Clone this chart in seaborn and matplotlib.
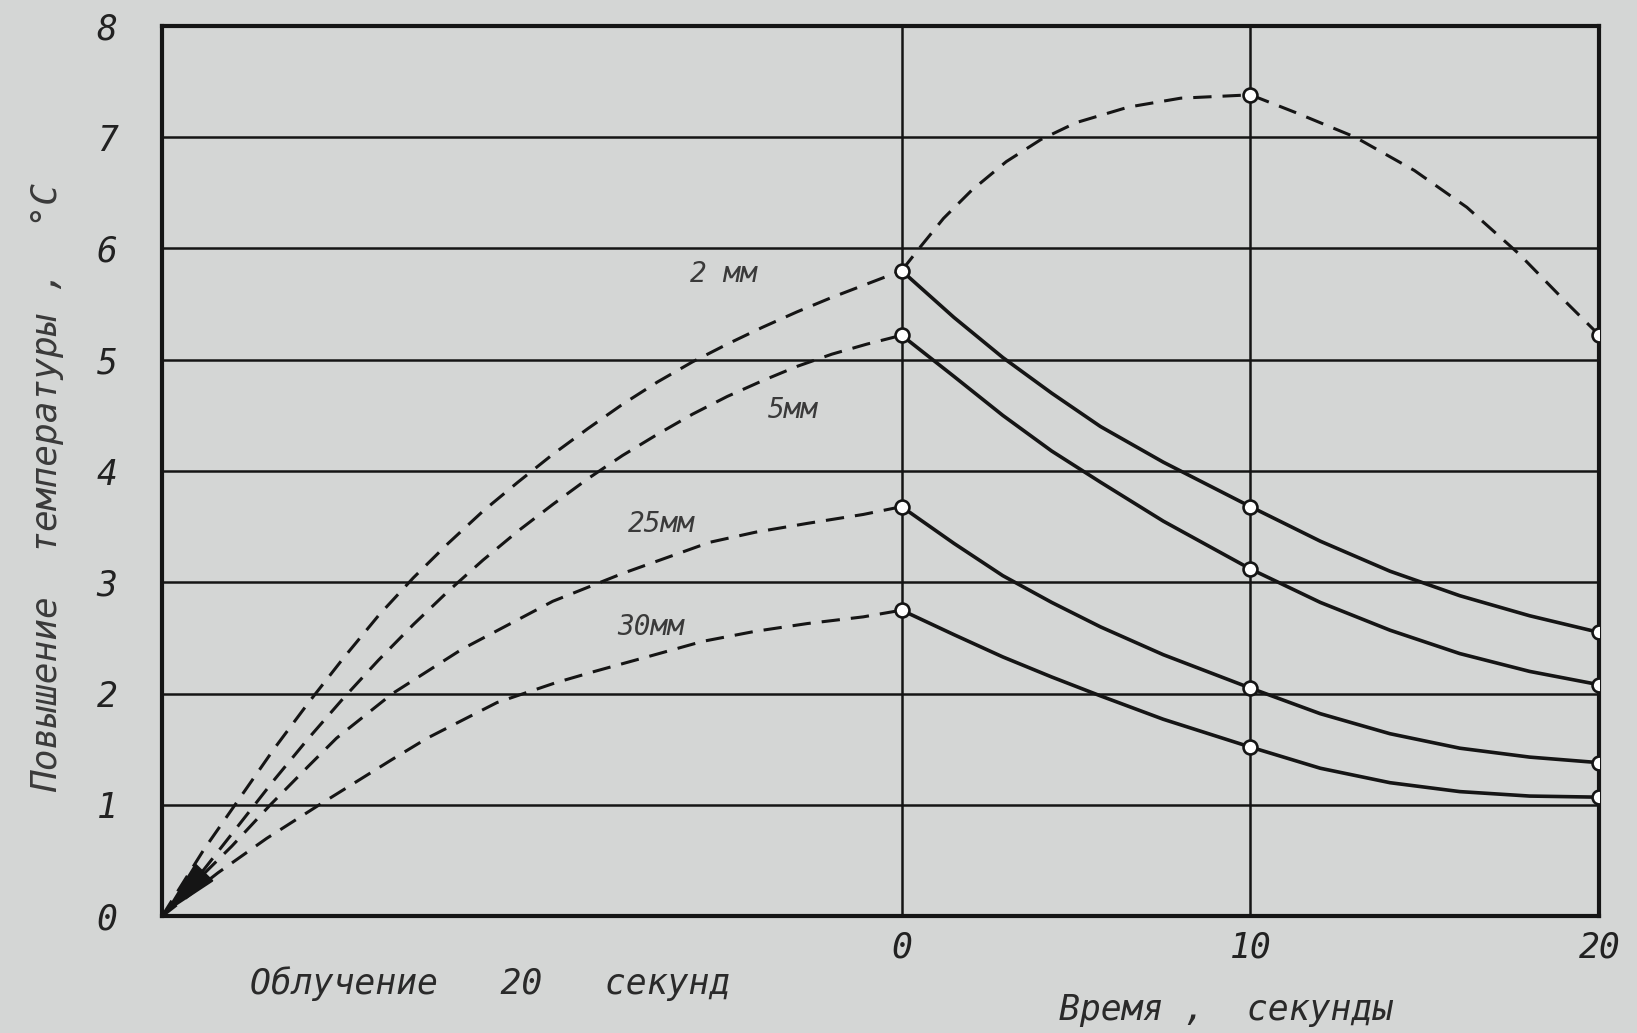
"""Temperature rise during and after 20 s irradiation at several depths."""
import matplotlib
matplotlib.use("Agg")
import matplotlib.pyplot as plt
import pandas as pd
import seaborn as sns

# --- data ------------------------------------------------------------------
DEPTHS = ["2 мм", "5мм", "25мм", "30мм"]

# irradiation phase (dashed), time axis shifted so that 0 = end of irradiation
irr_t_2mm = [-21.2, -20, -19, -18, -17, -16, -15, -14, -13, -12, -11, -10, -9, -8, -7, -6, -5, -4, -3, -2, -1, 0]
irr_dt_2mm = [0, 0.6, 1.05, 1.5, 1.92, 2.32, 2.7, 3.04, 3.35, 3.64, 3.9, 4.15, 4.38, 4.6, 4.8, 4.98, 5.14, 5.29, 5.43, 5.56, 5.68, 5.8]
irr_t_5mm = [-21.2, -20, -19, -18, -17, -16, -15, -14, -13, -12, -11, -10, -9, -8, -7, -6, -5, -4, -3, -2, -1, 0]
irr_dt_5mm = [0, 0.42, 0.82, 1.22, 1.6, 1.96, 2.3, 2.62, 2.92, 3.2, 3.46, 3.7, 3.93, 4.14, 4.33, 4.51, 4.67, 4.81, 4.94, 5.05, 5.14, 5.22]
irr_t_25mm = [-21.2, -20.2, -19.2, -18.1, -17, -16.2, -14.6, -12.6, -10, -8, -5.5, -4.2, -2.7, -1.1, 0]
irr_dt_25mm = [0, 0.32, 0.63, 1.0, 1.35, 1.6, 2.0, 2.4, 2.83, 3.08, 3.36, 3.45, 3.53, 3.61, 3.68]
irr_t_30mm = [-21.2, -19.6, -18.2, -16.7, -14.6, -13.6, -11.6, -9.9, -8.8, -7.3, -5.7, -4.2, -2.7, -1.1, 0]
irr_dt_30mm = [0, 0.39, 0.7, 1.0, 1.41, 1.6, 1.92, 2.1, 2.2, 2.33, 2.47, 2.56, 2.63, 2.69, 2.75]

# cooling phase (solid), seconds after irradiation
cool_t = [0, 1.5, 2.9, 4.3, 5.7, 7.5, 10, 12, 14, 16, 18, 20]
cool_dt_2mm = [5.8, 5.38, 5.02, 4.7, 4.4, 4.08, 3.68, 3.37, 3.1, 2.88, 2.7, 2.55]
cool_dt_5mm = [5.22, 4.85, 4.5, 4.18, 3.9, 3.55, 3.12, 2.82, 2.57, 2.36, 2.2, 2.08]
cool_dt_25mm = [3.68, 3.35, 3.06, 2.82, 2.6, 2.35, 2.05, 1.82, 1.64, 1.51, 1.43, 1.38]
cool_dt_30mm = [2.75, 2.53, 2.33, 2.15, 1.98, 1.77, 1.52, 1.33, 1.2, 1.12, 1.08, 1.07]

# upper dashed envelope
peak_t = [0, 0.5, 1.2, 2, 3, 4, 5, 6.5, 8, 10, 11.3, 13, 14.7, 16.2, 17.7, 19.1, 20]
peak_dt = [5.8, 6.0, 6.27, 6.52, 6.78, 6.98, 7.13, 7.27, 7.35, 7.38, 7.22, 7.0, 6.7, 6.37, 5.95, 5.5, 5.22]

MARK_T = [0, 10, 20]

# label positions (data coords)
label_x = [-5.1, -3.1, -6.9, -7.2]
label_y = [5.77, 4.55, 3.52, 2.6]

# --- styling -----------------------------------------------------------------
BG = "#d4d6d5"
INK = "#151515"
MONO = ["DejaVu Sans Mono"]

sns.set_theme(style="white")
plt.rcParams.update({
    "font.family": MONO,
    "font.style": "italic",
    "axes.facecolor": BG,
    "figure.facecolor": BG,
    "savefig.facecolor": BG,
})


def build_frame():
    rows = []
    irr = [(irr_t_2mm, irr_dt_2mm), (irr_t_5mm, irr_dt_5mm),
           (irr_t_25mm, irr_dt_25mm), (irr_t_30mm, irr_dt_30mm)]
    cool = [cool_dt_2mm, cool_dt_5mm, cool_dt_25mm, cool_dt_30mm]
    for depth, (ti, di), dc in zip(DEPTHS, irr, cool):
        rows += [(t, d, depth, "irr") for t, d in zip(ti, di)]
        rows += [(t, d, depth, "cool") for t, d in zip(cool_t, dc)]
    rows += [(t, d, "peak", "peak") for t, d in zip(peak_t, peak_dt)]
    return pd.DataFrame(rows, columns=["t", "dT", "depth", "phase"])


def main():
    df = build_frame()

    fig = plt.figure(figsize=(16.37, 10.33), dpi=100)
    ax = fig.add_axes([0.099, 0.113, 0.878, 0.862])

    dash = (0, (6, 3.6))
    for (depth, phase), sub in df.groupby(["depth", "phase"], sort=False):
        style = "-" if phase == "cool" else dash
        lw = 2.6 if phase == "cool" else 2.2
        sns.lineplot(data=sub, x="t", y="dT", sort=False, ax=ax, color=INK,
                     linewidth=lw, linestyle=style, legend=False, zorder=3)

    marks = df[(df["phase"] != "irr") & df["t"].isin(MARK_T)]
    marks = marks[~((marks["phase"] == "peak") & (marks["t"] == 0))]
    sns.scatterplot(data=marks, x="t", y="dT", ax=ax, s=100, marker="o",
                    facecolor="white", edgecolor=INK, linewidth=1.9,
                    legend=False, zorder=5)

    # arrow head at the origin of the heating curves
    ax.annotate("", xy=(-21.15, 0.02), xytext=(-20.1, 0.36),
                arrowprops=dict(arrowstyle="-|>,head_length=1.9,head_width=0.42",
                                mutation_scale=20, color=INK, lw=1.5,
                                shrinkA=0, shrinkB=0),
                zorder=6)

    for txt, x, y in zip(DEPTHS, label_x, label_y):
        ax.text(x, y, txt, fontsize=20, color="#3a3a3a", ha="center",
                va="center", zorder=4)

    ax.set_xlim(-21.2, 20)
    ax.set_ylim(0, 8)
    ax.set_xticks(MARK_T)
    ax.set_xticklabels(["0", "10", "20"])
    ax.set_yticks(range(0, 9))
    ax.tick_params(axis="both", length=0, labelsize=25, colors="#222222")
    ax.tick_params(axis="y", pad=32)
    ax.tick_params(axis="x", pad=10)
    ax.grid(True, color=INK, linewidth=1.8)
    ax.set_axisbelow(True)
    for sp in ax.spines.values():
        sp.set_visible(True)
        sp.set_color(INK)
        sp.set_linewidth(3)

    ax.set_xlabel("")
    ax.set_ylabel("Повышение  температуры ,  °С", fontsize=26, color="#3a3a3a")
    ax.yaxis.set_label_coords(-0.068, 0.481)

    ax.text(-11.8, -0.6, "Облучение   20   секунд", fontsize=25, color="#2a2a2a",
            ha="center", va="center")
    ax.text(9.3, -0.84, "Время ,  секунды", fontsize=25, color="#2a2a2a",
            ha="center", va="center")

    fig.savefig("out.png", dpi=100, facecolor=BG)


if __name__ == "__main__":
    main()
